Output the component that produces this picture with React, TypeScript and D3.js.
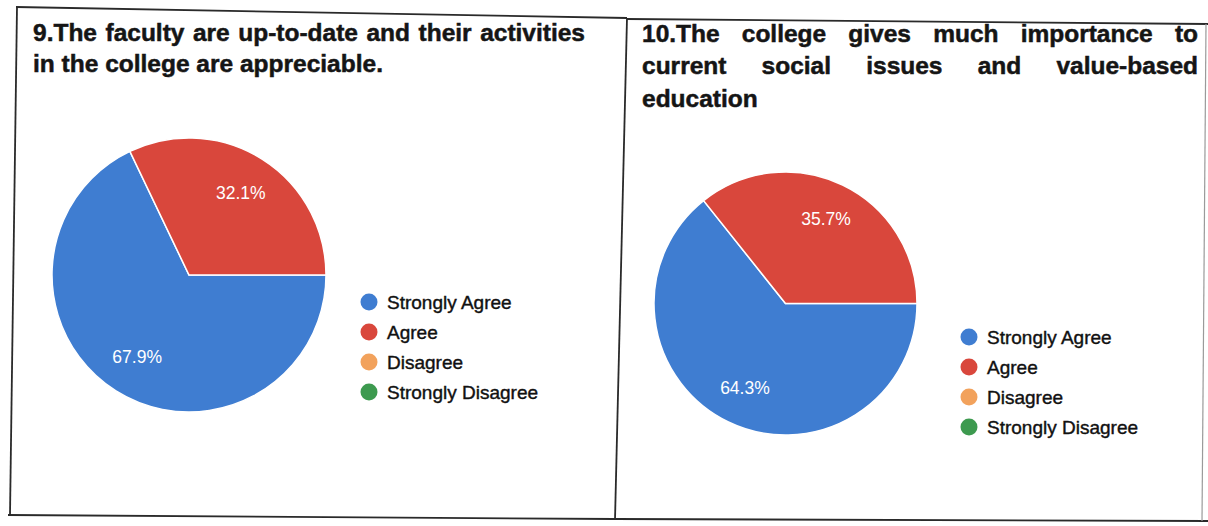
import React from 'react';
import * as d3 from 'd3';

const categories = ['Strongly Agree', 'Agree', 'Disagree', 'Strongly Disagree'];
const sliceColors = ['#3f7dd1', '#d9473c', '#f2a25c', '#3d9a4f'];
const q9Values = [67.9, 32.1, 0, 0];
const q10Values = [64.3, 35.7, 0, 0];
const q9TitleLines = ['9.The faculty are up-to-date and their activities', 'in the college are appreciable.'];
const q10TitleLines = ['10.The college gives much importance to', 'current social issues and value-based', 'education'];

const W = 1208;
const H = 526;
const TITLE_FONT = "bold 24.5px 'Liberation Sans'";

let ctx: CanvasRenderingContext2D | null = null;
function measure(text: string, font: string): number {
  if (!ctx) ctx = document.createElement('canvas').getContext('2d');
  if (!ctx) return text.length * 12;
  ctx.font = font;
  return ctx.measureText(text).width;
}

type PanelCfg = {
  key: string;
  values: number[];
  title: string[];
  tx0: number;
  tx1: number;
  baselines: number[];
  cx: number;
  cy: number;
  r: number;
  legendX: number;
  legendY: number;
};

const panels: PanelCfg[] = [
  { key: 'q9', values: q9Values, title: q9TitleLines, tx0: 33, tx1: 585, baselines: [41, 72], cx: 189, cy: 275, r: 137, legendX: 369, legendY: 302 },
  { key: 'q10', values: q10Values, title: q10TitleLines, tx0: 642, tx1: 1198, baselines: [42, 74, 107], cx: 785.5, cy: 303.5, r: 131.5, legendX: 969, legendY: 337 },
];

function TitleLines({ p }: { p: PanelCfg }) {
  const out: React.ReactNode[] = [];
  const textProps = { style: { font: TITLE_FONT }, fill: '#151515', stroke: '#151515', strokeWidth: 0.5 };
  p.title.forEach((line, li) => {
    const words = line.split(' ');
    const last = li === p.title.length - 1;
    const y = p.baselines[li];
    if (last || words.length < 2) {
      out.push(
        <text key={`${li}`} x={p.tx0} y={y} {...textProps}>{line}</text>
      );
      return;
    }
    const widths = words.map((w) => measure(w, TITLE_FONT));
    const total = widths.reduce((a, b) => a + b, 0);
    const gap = (p.tx1 - p.tx0 - total) / (words.length - 1);
    let x = p.tx0;
    words.forEach((w, wi) => {
      out.push(
        <text key={`${li}-${wi}`} x={x} y={y} {...textProps}>{w}</text>
      );
      x += widths[wi] + gap;
    });
  });
  return <g>{out}</g>;
}

function Pie({ p }: { p: PanelCfg }) {
  const pie = d3
    .pie<number>()
    .sort(null)
    .value((d) => d)
    .startAngle(Math.PI / 2)
    .endAngle(Math.PI / 2 + 2 * Math.PI);
  const arcs = pie(p.values);
  const arc = d3.arc<d3.PieArcDatum<number>>().innerRadius(0).outerRadius(p.r);
  const labelArc = d3.arc<d3.PieArcDatum<number>>().innerRadius(p.r * 0.71).outerRadius(p.r * 0.71);
  const color = d3.scaleOrdinal<string, string>().domain(categories).range(sliceColors);
  return (
    <g transform={`translate(${p.cx},${p.cy})`}>
      {arcs.map((a, i) =>
        a.value > 0 ? (
          <path key={i} d={arc(a) || ''} fill={color(categories[i])} stroke="#ffffff" strokeWidth={1.5} />
        ) : null
      )}
      {arcs.map((a, i) => {
        if (a.value <= 0) return null;
        const [x, y] = labelArc.centroid(a);
        return (
          <text key={`l${i}`} x={x} y={y} textAnchor="middle" dominantBaseline="central"
            style={{ font: "17.5px 'Liberation Sans'" }} fill="#ffffff">
            {`${a.value.toFixed(1)}%`}
          </text>
        );
      })}
    </g>
  );
}

function Legend({ p }: { p: PanelCfg }) {
  const color = d3.scaleOrdinal<string, string>().domain(categories).range(sliceColors);
  const y = d3.scalePoint<string>().domain(categories).range([0, 90]);
  return (
    <g transform={`translate(${p.legendX},${p.legendY})`}>
      {categories.map((c) => (
        <g key={c} transform={`translate(0,${y(c)})`}>
          <circle r={8.5} fill={color(c)} />
          <text x={18} y={0} dominantBaseline="central" style={{ font: "19px 'Liberation Sans'" }}
            fill="#111" stroke="#111" strokeWidth={0.4}>
            {c}
          </text>
        </g>
      ))}
    </g>
  );
}

export default function App() {
  return (
    <svg width={W} height={H} viewBox={`0 0 ${W} ${H}`}
      style={{ position: 'absolute', left: 0, top: 0, display: 'block', background: '#ffffff' }}>
      <rect x={0} y={0} width={W} height={H} fill="#ffffff" />
      {/* scanned table frame */}
      <g stroke="#2a2a2a" strokeWidth={1.8} fill="none">
        <path d="M16,7 L627,18" />
        <path d="M627,19 L1208,24" />
        <path d="M17,7 L10,515" />
        <path d="M627,18 L615,520" />
        <path d="M8,515 L615,519 L1208,521" />
      </g>
      <path d="M1206,24 L1202,521" stroke="#9a9a9a" strokeWidth={1.2} fill="none" />
      {panels.map((p) => (
        <g key={p.key}>
          <TitleLines p={p} />
          <Pie p={p} />
          <Legend p={p} />
        </g>
      ))}
    </svg>
  );
}
